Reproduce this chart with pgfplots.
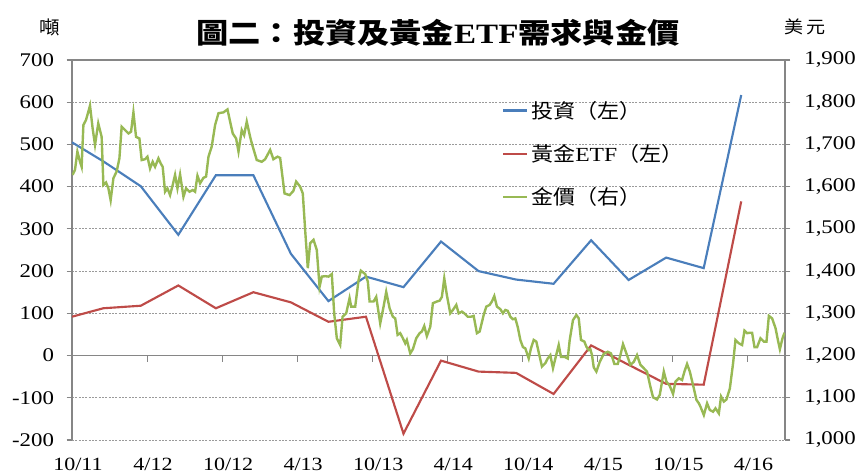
\documentclass[border=0pt]{standalone}
\usepackage{pgfplots}
\usepackage{pgfplotstable}
\pgfplotsset{compat=1.18}
\usepackage{fontspec}
\setmainfont{Liberation Serif}[FakeStretch=1.18]
\newfontfamily\cjk{Noto Sans CJK TC}[FakeStretch=1.1]
\newfontfamily\cjkt{Noto Sans CJK TC}[FakeStretch=1.15]
\definecolor{cblue}{HTML}{4A7EBB}
\definecolor{cred}{HTML}{BE4B48}
\definecolor{cgreen}{HTML}{98B954}
\definecolor{axisgray}{HTML}{868686}
\definecolor{gridgray}{HTML}{9A9A9A}

\pgfplotstableread{
x y
0 505
2.5 460
5.5 401
8.5 286
11.5 427
14.5 427
17.5 241
20.5 129
23.5 187
26.5 162
29.5 270
32.5 200
35.5 180
38.5 170
41.5 273
44.5 179
47.5 232
50.5 207
53.5 617
}\invtab

\pgfplotstableread{
x y
0 92
2.5 112
5.5 118
8.5 166
11.5 112
14.5 150
17.5 126
20.5 80
23.5 92
26.5 -185
29.5 -12
32.5 -38
35.5 -41
38.5 -91
41.5 24
44.5 -22
47.5 -67
50.5 -69
53.5 365
}\etftab

\pgfplotstableread{
x y
0.05 1628
0.24 1640
0.43 1683
0.64 1659
0.77 1647
0.91 1746
1.12 1758
1.31 1778
1.44 1792
1.65 1738
1.84 1699
2.1 1750
2.37 1718
2.51 1604
2.72 1610
2.91 1596
3.09 1568
3.31 1620
3.57 1636
3.79 1667
3.97 1742
4.24 1734
4.51 1726
4.72 1730
4.91 1776
5.12 1718
5.39 1714
5.57 1663
5.84 1665
6.03 1671
6.24 1643
6.45 1659
6.64 1647
6.91 1667
7.09 1655
7.25 1647
7.44 1588
7.63 1596
7.84 1580
8.05 1604
8.24 1628
8.43 1596
8.64 1629
8.91 1576
9.12 1596
9.39 1588
9.65 1592
9.84 1588
10.03 1626
10.24 1608
10.51 1621
10.72 1624
10.91 1671
11.17 1695
11.44 1746
11.71 1774
12.11 1776
12.43 1783
12.64 1754
12.85 1726
13.12 1714
13.31 1683
13.57 1734
13.76 1722
13.97 1754
14.24 1718
14.37 1703
14.77 1663
15.17 1659
15.44 1665
15.84 1687
16.1 1665
16.43 1671
16.64 1668
16.99 1584
17.39 1580
17.7 1590
17.92 1612
18.24 1600
18.45 1584
18.64 1497
18.85 1407
19.04 1466
19.31 1474
19.57 1450
19.79 1363
19.97 1387
20.24 1388
20.51 1387
20.77 1393
20.96 1300
21.17 1241
21.44 1225
21.63 1292
21.92 1300
22.19 1336
22.32 1316
22.64 1316
22.91 1379
23.09 1401
23.44 1393
23.65 1375
23.79 1328
24.11 1328
24.32 1339
24.64 1276
24.91 1316
25.12 1351
25.39 1312
25.65 1292
25.84 1288
26.03 1249
26.24 1253
26.45 1241
26.64 1229
26.77 1237
27.04 1205
27.25 1215
27.52 1241
27.79 1253
27.97 1257
28.16 1270
28.37 1246
28.64 1268
28.85 1324
29.17 1328
29.39 1330
29.57 1339
29.76 1383
29.97 1343
30.24 1300
30.45 1308
30.72 1320
30.91 1300
31.17 1304
31.36 1300
31.63 1292
31.89 1292
32.11 1294
32.37 1253
32.59 1257
32.91 1296
33.12 1316
33.39 1320
33.57 1328
33.76 1341
33.97 1316
34.24 1310
34.45 1300
34.64 1308
34.83 1306
35.04 1292
35.25 1286
35.44 1288
35.63 1268
35.84 1237
36.05 1220
36.24 1217
36.51 1193
36.69 1217
36.91 1237
37.12 1233
37.39 1197
37.57 1174
37.84 1182
38.03 1193
38.24 1201
38.45 1170
38.64 1193
38.91 1225
39.09 1197
39.36 1197
39.63 1193
39.79 1237
40.05 1284
40.32 1296
40.51 1288
40.69 1237
40.96 1233
41.12 1221
41.31 1213
41.44 1215
41.57 1201
41.71 1172
41.92 1162
42.19 1185
42.51 1204
42.83 1209
43.09 1205
43.36 1180
43.63 1180
43.84 1201
44.05 1227
44.32 1205
44.64 1178
44.91 1185
45.17 1201
45.44 1178
45.71 1170
45.97 1162
46.24 1126
46.45 1101
46.77 1096
46.99 1107
47.17 1138
47.31 1162
47.52 1138
47.79 1128
48.05 1109
48.24 1138
48.51 1146
48.77 1142
48.96 1162
49.17 1180
49.39 1162
49.65 1130
49.92 1095
50.11 1087
50.24 1079
50.51 1059
50.77 1087
50.99 1071
51.25 1067
51.44 1075
51.71 1063
51.89 1103
52.11 1091
52.32 1096
52.59 1122
52.85 1182
53.04 1237
53.31 1229
53.57 1225
53.76 1259
53.97 1253
54.19 1254
54.37 1254
54.56 1220
54.77 1220
55.04 1241
55.31 1233
55.52 1233
55.71 1294
55.97 1288
56.24 1265
56.43 1237
56.59 1215
56.8 1241
56.96 1254
}\goldtab

\begin{document}
\begin{tikzpicture}
\path (0,0) rectangle (647.25pt,355.5pt);
\begin{axis}[
  at={(54pt,25.5pt)}, anchor=south west,
  width=534.75pt, height=285pt, scale only axis,
  xmin=0, xmax=57, ymin=-200, ymax=700,
  axis y line*=left, axis x line*=bottom,
  x axis line style={draw=none},
  y axis line style={draw=axisgray, line width=0.8pt, -},
  xtick={0,6,...,54},
  xticklabels={10/11,4/12,10/12,4/13,10/13,4/14,10/14,4/15,10/15,4/16},
  xtick style={draw=none},
  xticklabel style={font=\fontsize{14}{15}\selectfont, xshift=4.5pt, yshift=-6pt},
  ytick={-200,-100,...,700},
  yticklabels={-200,-100,0,100,200,300,400,500,600,700},
  yticklabel style={font=\fontsize{14.5}{15}\selectfont, xshift=-6pt},
  ytick style={draw=axisgray, line width=0.8pt},
  tick align=outside, major tick length=4pt,
  ymajorgrids,
  grid style={gridgray, dash pattern=on 1.5pt off 1pt, line width=0.6pt},
  legend style={at={(0.603,0.90)}, anchor=north west, draw=none, fill=none,
    font=\cjk\fontsize{15}{17}\selectfont, row sep=14pt,
    inner sep=0pt},
  legend cell align=left,
  legend image code/.code={\draw[#1] (0pt,0pt) -- (18pt,0pt);},
]
\draw[axisgray, line width=0.8pt] (axis cs:0,0) -- (axis cs:57,0);
\draw[axisgray, line width=0.8pt] (axis cs:0,700) -- (axis cs:57,700);
\draw[axisgray, line width=0.8pt] (axis cs:6,0) -- ([yshift=-4.5pt]axis cs:6,0);
\draw[axisgray, line width=0.8pt] (axis cs:12,0) -- ([yshift=-4.5pt]axis cs:12,0);
\draw[axisgray, line width=0.8pt] (axis cs:18,0) -- ([yshift=-4.5pt]axis cs:18,0);
\draw[axisgray, line width=0.8pt] (axis cs:24,0) -- ([yshift=-4.5pt]axis cs:24,0);
\draw[axisgray, line width=0.8pt] (axis cs:30,0) -- ([yshift=-4.5pt]axis cs:30,0);
\draw[axisgray, line width=0.8pt] (axis cs:36,0) -- ([yshift=-4.5pt]axis cs:36,0);
\draw[axisgray, line width=0.8pt] (axis cs:42,0) -- ([yshift=-4.5pt]axis cs:42,0);
\draw[axisgray, line width=0.8pt] (axis cs:48,0) -- ([yshift=-4.5pt]axis cs:48,0);
\draw[axisgray, line width=0.8pt] (axis cs:54,0) -- ([yshift=-4.5pt]axis cs:54,0);
\draw[axisgray, line width=0.8pt] (axis cs:0,700) -- ([yshift=4.5pt]axis cs:0,700);
\draw[axisgray, line width=0.8pt] (axis cs:6.07,700) -- ([yshift=4.5pt]axis cs:6.07,700);
\draw[axisgray, line width=0.8pt] (axis cs:12.14,700) -- ([yshift=4.5pt]axis cs:12.14,700);
\draw[axisgray, line width=0.8pt] (axis cs:18.21,700) -- ([yshift=4.5pt]axis cs:18.21,700);
\draw[axisgray, line width=0.8pt] (axis cs:24.28,700) -- ([yshift=4.5pt]axis cs:24.28,700);
\draw[axisgray, line width=0.8pt] (axis cs:30.35,700) -- ([yshift=4.5pt]axis cs:30.35,700);
\draw[axisgray, line width=0.8pt] (axis cs:36.42,700) -- ([yshift=4.5pt]axis cs:36.42,700);
\draw[axisgray, line width=0.8pt] (axis cs:42.49,700) -- ([yshift=4.5pt]axis cs:42.49,700);
\draw[axisgray, line width=0.8pt] (axis cs:48.56,700) -- ([yshift=4.5pt]axis cs:48.56,700);
\draw[axisgray, line width=0.8pt] (axis cs:54.63,700) -- ([yshift=4.5pt]axis cs:54.63,700);
\addplot[cblue, line width=1.6pt, mark=none] table {\invtab};
\addlegendentry{投資（左）}
\addplot[cred, line width=1.6pt, mark=none] table {\etftab};
\addlegendentry{黃金{\rmfamily ETF}（左）}
\addlegendimage{cgreen, line width=1.8pt, mark=none}
\addlegendentry{金價（右）}
\end{axis}
\begin{axis}[
  at={(54pt,25.5pt)}, anchor=south west,
  width=534.75pt, height=285pt, scale only axis,
  xmin=0, xmax=57, ymin=1000, ymax=1900,
  axis y line*=right, axis x line=none,
  y axis line style={draw=axisgray, line width=0.8pt, -},
  ytick={1000,1100,...,1900},
  yticklabels={{1,000},{1,100},{1,200},{1,300},{1,400},{1,500},{1,600},{1,700},{1,800},{1,900}},
  yticklabel style={font=\fontsize{14.5}{15}\selectfont, anchor=west, xshift=7pt},
  ytick style={draw=axisgray, line width=0.8pt},
  tick align=outside, major tick length=4pt,
]
\addplot[cgreen, line width=1.8pt, mark=none] table {\goldtab};
\end{axis}
\node at (328.5pt,330.75pt) {\fontsize{21}{23}\selectfont\bfseries\cjkt 圖二：投資及黃金{\rmfamily ETF}需求與金價};
\node at (37.5pt,335.25pt) {\cjk\fontsize{14}{15}\selectfont 噸};
\node at (603.75pt,335.25pt) {\cjk\fontsize{13}{14}\selectfont 美\,元};
\end{tikzpicture}
\end{document}
